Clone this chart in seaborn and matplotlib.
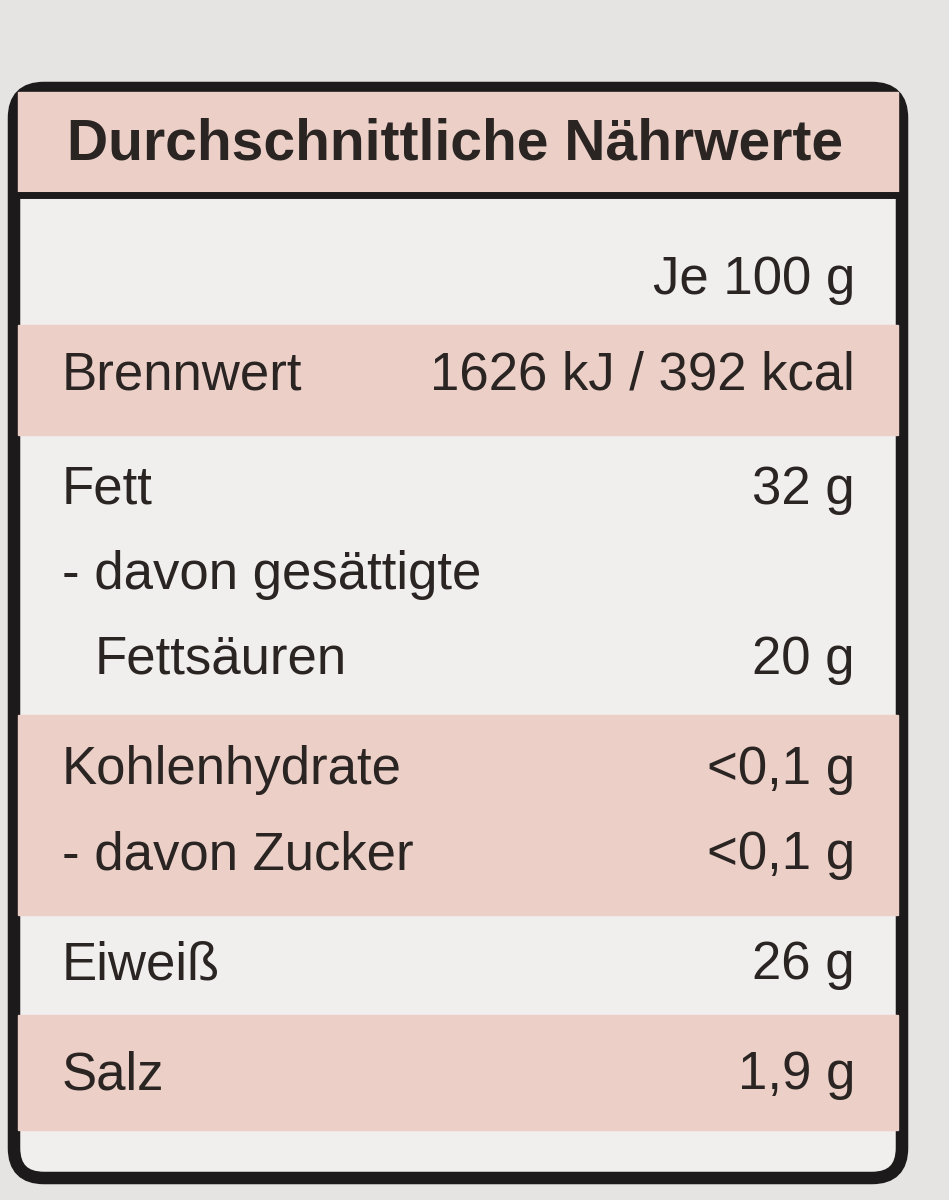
import matplotlib.pyplot as plt
import seaborn as sns
from matplotlib.patches import FancyBboxPatch

# label content
title = 'Durchschnittliche Nährwerte'
header = 'Je 100 g'
row_labels = ['Brennwert', 'Fett', '- davon gesättigte', '  Fettsäuren',
              'Kohlenhydrate', '- davon Zucker', 'Eiweiß', 'Salz']
row_values = ['1626 kJ / 392 kcal', '32 g', '', '20 g',
              '<0,1 g', '<0,1 g', '26 g', '1,9 g']

sns.set_theme(style='white')
plt.rcParams['font.family'] = ['Liberation Sans Narrow', 'Liberation Sans', 'DejaVu Sans']

fig = plt.figure(figsize=(9.49, 12), dpi=100)
fig.patch.set_facecolor('#e6e4e2')
ax = fig.add_axes([0, 0, 1, 1])
ax.set_xlim(0, 949)
ax.set_ylim(1200, 0)
ax.axis('off')

pink = '#ecd0c8'
white = '#f1efee'
ink = '#2a2422'

# inner panel
ax.add_patch(FancyBboxPatch((14, 88), 888, 1090, boxstyle='round,pad=0,rounding_size=30',
                            fc=white, ec='#1c1a1a', lw=9, zorder=1))
ax.axhspan(92, 193, xmin=18 / 949, xmax=898 / 949, color=pink, zorder=2)
ax.plot([16, 900], [195, 195], color='#1c1a1a', lw=5, zorder=3)
ax.text(455, 145, title, ha='center', va='center', fontsize=41, weight='bold', color=ink, zorder=4)
ax.text(855, 280, header, ha='right', va='center', fontsize=38, color=ink, zorder=4)

# row layout
line_y = [375, 490, 575, 660, 770, 855, 965, 1075]
bands = [(325, 435), (715, 915), (1015, 1130)]
for y0, y1 in bands:
    ax.axhspan(y0, y1, xmin=18 / 949, xmax=898 / 949, color=pink, zorder=2)

for lab, val, y in zip(row_labels, row_values, line_y):
    x = 95 if lab.startswith('  ') else 62
    ax.text(x, y, lab.strip(), ha='left', va='center', fontsize=38, color=ink, zorder=4)
    ax.text(855, y, val, ha='right', va='center', fontsize=38, color=ink, zorder=4)

fig.savefig('out.png', dpi=100, facecolor=fig.get_facecolor())
